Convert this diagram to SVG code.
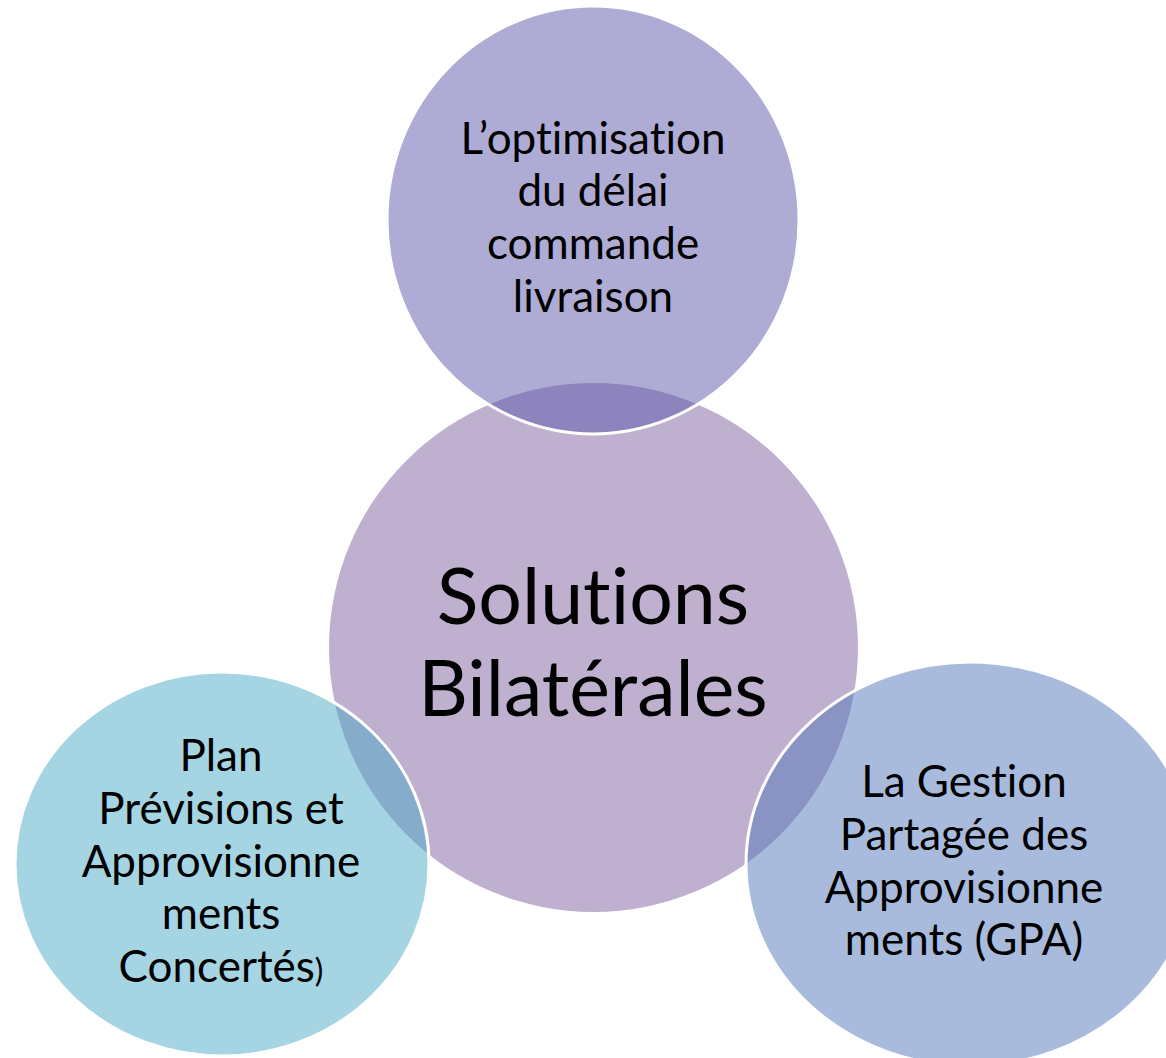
<svg xmlns="http://www.w3.org/2000/svg" width="1166" height="1058" viewBox="0 0 1166 1058">
  <style>
    .hub { fill: #BFB0D0; }
    .sat { stroke: #FFFFFF; stroke-width: 3; }
    .lbl { font-family: Lato, "Open Sans", "Liberation Sans", sans-serif; fill: #000000; text-anchor: middle; font-variant-ligatures: none; font-feature-settings: "liga" 0, "clig" 0; }
    .sm { font-size: 44px; }
    .lg { font-size: 77px; }
  </style>
  <rect width="1166" height="1058" fill="#FFFFFF"/>

  <!-- central circle -->
  <g id="hub">
    <circle class="hub" cx="593.5" cy="647.5" r="264.5"/>
    <text class="lbl lg" x="593" y="624">Solutions</text>
    <text class="lbl lg" x="593" y="716">Bilatérales</text>
  </g>

  <!-- satellite circles, semi-transparent so the overlaps darken -->
  <g id="top-node">
    <ellipse class="sat" cx="593" cy="220" rx="206" ry="214" fill="rgb(93,87,169)" fill-opacity="0.5"/>
    <text class="lbl sm" x="593" y="154">L’optimisation</text>
    <text class="lbl sm" x="593" y="206">du délai</text>
    <text class="lbl sm" x="593" y="259">commande</text>
    <text class="lbl sm" x="593" y="312">livraison</text>
  </g>

  <g id="left-node">
    <ellipse class="sat" cx="222" cy="864" rx="207" ry="192" fill="rgb(75,169,197)" fill-opacity="0.5"/>
    <text class="lbl sm" x="221" y="771">Plan</text>
    <text class="lbl sm" x="221" y="824">Prévisions et</text>
    <text class="lbl sm" x="221" y="877">Approvisionne</text>
    <text class="lbl sm" x="221" y="929">ments</text>
    <text class="lbl sm" x="221" y="982">Concertés<tspan font-size="32px">)</tspan></text>
  </g>

  <g id="right-node">
    <ellipse class="sat" cx="970" cy="864" rx="224" ry="202" fill="rgb(83,119,185)" fill-opacity="0.5"/>
    <text class="lbl sm" x="964" y="797">La Gestion</text>
    <text class="lbl sm" x="964" y="850">Partagée des</text>
    <text class="lbl sm" x="964" y="903">Approvisionne</text>
    <text class="lbl sm" x="964" y="955">ments (GPA)</text>
  </g>

  <g id="connectors"/>
</svg>
